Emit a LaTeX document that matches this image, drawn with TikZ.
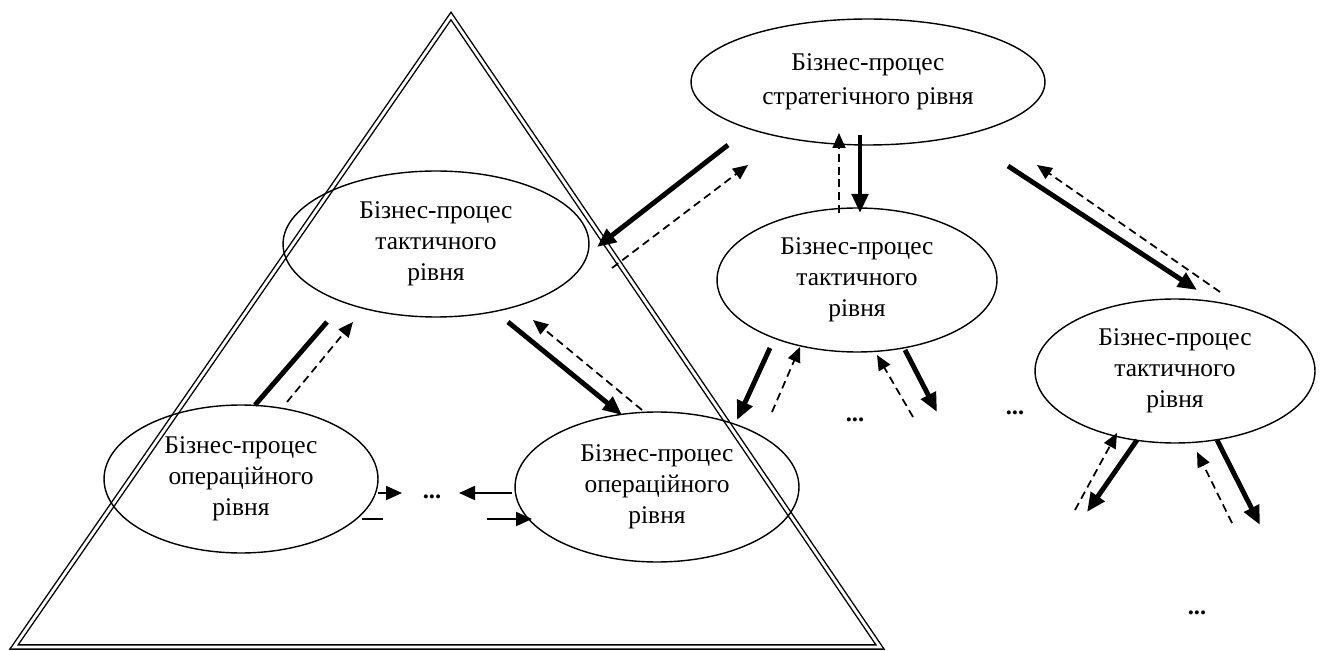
\documentclass[tikz,border=0pt]{standalone}
\usepackage{fontspec}
\setmainfont{Liberation Serif}
\usetikzlibrary{shapes.geometric,arrows.meta}

\begin{document}
\begin{tikzpicture}[x=0.02cm, y=-0.02cm,
    proc/.style={ellipse, draw, line width=0.8pt, inner sep=0pt, align=center,
        font=\fontsize{14.5pt}{17.5pt}\selectfont},
    down/.style={line width=2.8pt, -{Triangle[length=0.38cm, width=0.32cm]}},
    up/.style={line width=1pt, dash pattern=on 4.5pt off 2.8pt, -{Triangle[length=0.3cm, width=0.26cm]}},
    side/.style={line width=1.1pt, -{Triangle[length=0.32cm, width=0.28cm]}},
    dots/.style={font=\bfseries\fontsize{14pt}{14pt}\selectfont, inner sep=0pt}]
    \useasboundingbox (0,0) rectangle (1324,651);
    % pyramid of levels
    \draw[line width=0.8pt, double, double distance=1.6pt] (451,16) -- (14,647) -- (880,647) -- cycle;
    % processes
    \node[proc, minimum width=7.08cm, minimum height=2.52cm] (str) at (868,82) {Бізнес-процес\\[2pt] стратегічного рівня};
    \node[proc, minimum width=6.12cm, minimum height=2.92cm] (tl) at (436,244) {\raisebox{-4pt}{\parbox{4cm}{\centering Бізнес-процес\\ тактичного\\ рівня}}};
    \node[proc, minimum width=5.6cm, minimum height=2.88cm] (tm) at (857,280) {Бізнес-процес\\ тактичного\\ рівня};
    \node[proc, minimum width=5.6cm, minimum height=2.88cm] (tr) at (1175,371) {Бізнес-процес\\ тактичного\\ рівня};
    \node[proc, minimum width=5.48cm, minimum height=2.96cm] (ol) at (241,479) {Бізнес-процес\\ операційного\\ рівня};
    \node[proc, minimum width=5.68cm, minimum height=3cm] (or) at (657,487) {Бізнес-процес\\ операційного\\ рівня};
    \node[dots] (dop) at (432,497) {...};
    \node[dots] (dtm) at (855,420) {...};
    \node[dots] (dmid) at (1015,413) {...};
    \node[dots] (dtr) at (1197,613) {...};
    % strategic <-> tactical
    \draw[down] ([shift={(-140,63)}]str.center) -- ([shift={(161,3)}]tl.center);
    \draw[up] ([shift={(176,24)}]tl.center) -- ([shift={(-120,83)}]str.center);
    \draw[down] ([shift={(-8,53)}]str.center) -- ([shift={(3,-67)}]tm.center);
    \draw[up] ([shift={(-18,-67)}]tm.center) -- ([shift={(-29,51)}]str.center);
    \draw[down] ([shift={(140,84)}]str.center) -- ([shift={(22,-81)}]tr.center);
    \draw[up] ([shift={(45,-79)}]tr.center) -- ([shift={(169,83)}]str.center);
    % tactical <-> operational
    \draw[line width=2.8pt] ([shift={(-109,78)}]tl.center) -- ([shift={(14,-74)}]ol.center);
    \draw[up] ([shift={(46,-77)}]ol.center) -- ([shift={(-83,78)}]tl.center);
    \draw[down] ([shift={(72,78)}]tl.center) -- ([shift={(-35,-72)}]or.center);
    \draw[up] ([shift={(-15,-77)}]or.center) -- ([shift={(97,76)}]tl.center);
    % operational level
    \draw[side] ([shift={(137,14)}]ol.center) -- ([shift={(-30,-4)}]dop.center);
    \draw[line width=1.1pt] ([shift={(121,40)}]ol.center) -- ([shift={(142,40)}]ol.center);
    \draw[side] ([shift={(-145,6)}]or.center) -- ([shift={(27,-4)}]dop.center);
    \draw[side] ([shift={(55,22)}]dop.center) -- ([shift={(-125,32)}]or.center);
    % further down
    \draw[down] ([shift={(-87,68)}]tm.center) -- ([shift={(-120,140)}]tm.center);
    \draw[up] ([shift={(-85,132)}]tm.center) -- ([shift={(-57,67)}]tm.center);
    \draw[up] ([shift={(56,137)}]tm.center) -- ([shift={(20,75)}]tm.center);
    \draw[down] ([shift={(48,70)}]tm.center) -- ([shift={(80,132)}]tm.center);
    \draw[up] ([shift={(-100,139)}]tr.center) -- ([shift={(-58,62)}]tr.center);
    \draw[down] ([shift={(-38,69)}]tr.center) -- ([shift={(-88,141)}]tr.center);
    \draw[up] ([shift={(57,152)}]tr.center) -- ([shift={(22,81)}]tr.center);
    \draw[down] ([shift={(42,69)}]tr.center) -- ([shift={(85,154)}]tr.center);
\end{tikzpicture}
\end{document}
